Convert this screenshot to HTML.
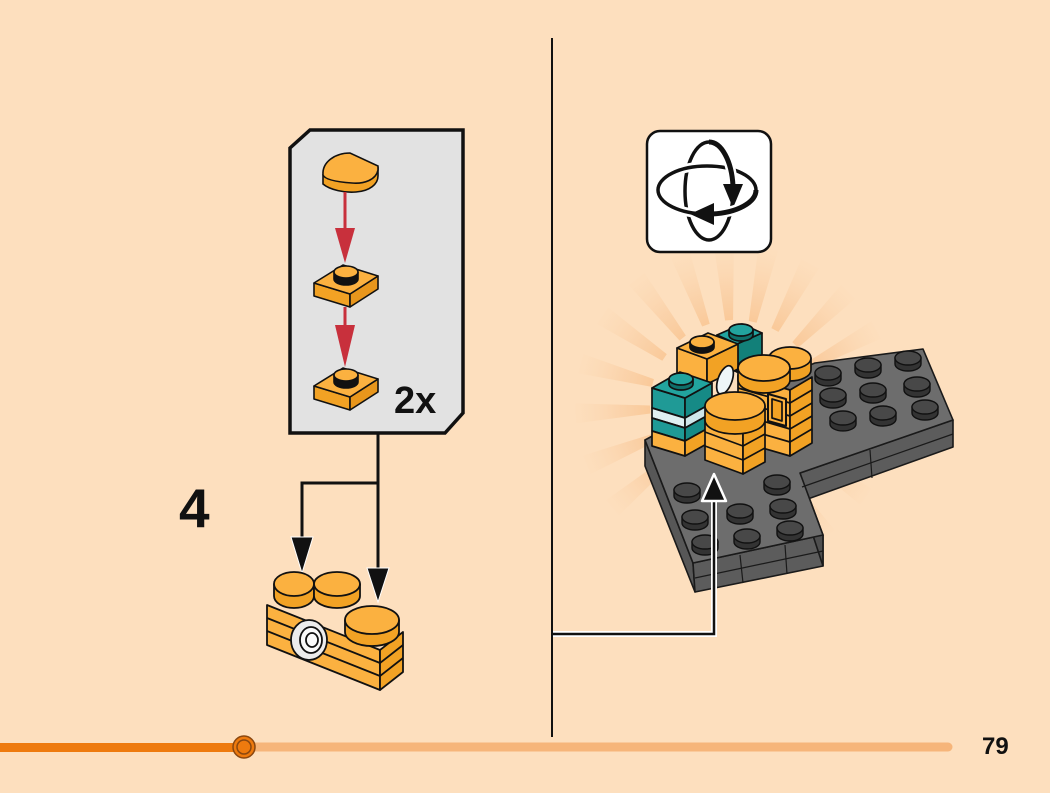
<!DOCTYPE html>
<html><head><meta charset="utf-8"><style>
html,body{margin:0;padding:0;background:#fddfbe;}
svg{display:block;}
text{font-family:"Liberation Sans",sans-serif;font-weight:bold;}
</style></head><body>
<svg width="1050" height="793" viewBox="0 0 1050 793" xmlns="http://www.w3.org/2000/svg">
<defs>
<radialGradient id="rayg" gradientUnits="userSpaceOnUse" cx="735" cy="405" r="165">
<stop offset="0.4" stop-color="#f7b87a" stop-opacity="0.75"/>
<stop offset="0.7" stop-color="#f8c493" stop-opacity="0.45"/>
<stop offset="1" stop-color="#fbd2a8" stop-opacity="0"/>
</radialGradient>
</defs>
<rect width="1050" height="793" fill="#fddfbe"/>

<!-- divider -->
<line x1="552" y1="38" x2="552" y2="737" stroke="#111" stroke-width="2"/>

<!-- callout box -->
<path d="M310,130 L463,130 L463,413 L445,433 L290,433 L290,148 Z" fill="#e2e2e2" stroke="#111" stroke-width="3.5" stroke-linejoin="miter"/>

<!-- half round tile -->
<g stroke="#111" stroke-width="1.6">
<path d="M323,175 L323,184 C330,190 345,193 356,192 C370,191 378,184 378,176 L378,168 Z" fill="#f2a224"/>
<path d="M323,175 C322,162 335,153 350,153 L378,166 L378,170 C376,180 364,184 352,183 C338,182 325,180 323,175 Z" fill="#fbb140"/>
</g>
<!-- red arrow 1 -->
<line x1="345" y1="192" x2="345" y2="232" stroke="#c8303c" stroke-width="3"/>
<polygon points="335,228 355,228 345,263" fill="#c8303c"/>
<!-- plate 1 -->
<g stroke="#111" stroke-width="1.6" stroke-linejoin="round">
<polygon points="314,283 350,294 350,307 314,296" fill="#f2a224"/>
<polygon points="350,294 378,276 378,289 350,307" fill="#e8961c"/>
<polygon points="314,283 343,265 378,276 350,294" fill="#fbb140"/>
<path d="M334,272 L334,279 A12,6 0 0 0 358,279 L358,272" fill="#111"/>
<ellipse cx="346" cy="272" rx="12" ry="6" fill="#fbb140"/>
</g>
<!-- red arrow 2 -->
<line x1="345" y1="307" x2="345" y2="330" stroke="#c8303c" stroke-width="3"/>
<polygon points="335,325 355,325 345,367" fill="#c8303c"/>
<!-- plate 2 -->
<g stroke="#111" stroke-width="1.6" stroke-linejoin="round">
<polygon points="314,386 350,397 350,410 314,399" fill="#f2a224"/>
<polygon points="350,397 378,379 378,392 350,410" fill="#e8961c"/>
<polygon points="314,386 343,368 378,379 350,397" fill="#fbb140"/>
<path d="M334,375 L334,382 A12,6 0 0 0 358,382 L358,375" fill="#111"/>
<ellipse cx="346" cy="375" rx="12" ry="6" fill="#fbb140"/>
</g>
<text x="394" y="413" font-size="38" fill="#111">2x</text>

<!-- left connectors -->
<g stroke="#111" stroke-width="3" fill="none">
<polyline points="378,434 378,572"/>
<polyline points="378,483 302,483 302,540"/>
</g>
<polygon points="291,537 313,537 302,573" fill="#111" stroke="#fff" stroke-width="1"/>
<polygon points="367,568 389,568 378,602" fill="#111" stroke="#fff" stroke-width="1"/>

<text x="179" y="527" font-size="55" fill="#111">4</text>

<!-- camera assembly -->
<g stroke="#111" stroke-width="1.8" stroke-linejoin="round">
<polygon points="267,605 380,650 380,690 267,645" fill="#fbb140"/>
<polygon points="380,650 403,632 403,672 380,690" fill="#f2a224"/>
<line x1="267" y1="618" x2="380" y2="663"/>
<line x1="267" y1="631" x2="380" y2="676"/>
<line x1="380" y1="663" x2="403" y2="645"/>
<line x1="380" y1="676" x2="403" y2="658"/>
<path d="M274,584 L274,596 A20,12 0 0 0 314,596 L314,584 Z" fill="#f2a224"/>
<ellipse cx="294" cy="584" rx="20" ry="12" fill="#fbb140"/>
<path d="M314,584 L314,596 A23,12 0 0 0 360,596 L360,584 Z" fill="#f2a224"/>
<ellipse cx="337" cy="584" rx="23" ry="12" fill="#fbb140"/>
<path d="M345,620 L345,632 A27,14 0 0 0 399,632 L399,620 Z" fill="#f2a224"/>
<ellipse cx="372" cy="620" rx="27" ry="14" fill="#fbb140"/>
<ellipse cx="309" cy="640" rx="18" ry="20" fill="#ececec"/>
<ellipse cx="311" cy="640" rx="11" ry="13" fill="#fafafa"/>
<ellipse cx="312" cy="640" rx="6" ry="7" fill="none"/>
</g>

<!-- sunburst rays -->
<g fill="url(#rayg)">
<polygon points="731,320 739,320 745,245 725,245" transform="rotate(-112 735 405)"/>
<polygon points="731,320 739,320 745,245 725,245" transform="rotate(-93 735 405)"/>
<polygon points="731,320 739,320 745,245 725,245" transform="rotate(-75 735 405)"/>
<polygon points="731,320 739,320 745,245 725,245" transform="rotate(-56 735 405)"/>
<polygon points="731,320 739,320 745,245 725,245" transform="rotate(-38 735 405)"/>
<polygon points="731,320 739,320 745,245 725,245" transform="rotate(-20 735 405)"/>
<polygon points="731,320 739,320 745,245 725,245" transform="rotate(-4 735 405)"/>
<polygon points="731,320 739,320 745,245 725,245" transform="rotate(12 735 405)"/>
<polygon points="731,320 739,320 745,245 725,245" transform="rotate(28 735 405)"/>
<polygon points="731,320 739,320 745,245 725,245" transform="rotate(45 735 405)"/>
<polygon points="731,320 739,320 745,245 725,245" transform="rotate(62 735 405)"/>
<polygon points="731,320 739,320 745,245 725,245" transform="rotate(125 735 405)"/>
<polygon points="731,320 739,320 745,245 725,245" transform="rotate(145 735 405)"/>
<polygon points="731,320 739,320 745,245 725,245" transform="rotate(-130 735 405)"/>
</g>

<!-- rotate icon -->
<rect x="647" y="131" width="124" height="121" rx="13" ry="13" fill="#fff" stroke="#111" stroke-width="2.5"/>
<ellipse cx="709" cy="191" rx="24" ry="49" fill="none" stroke="#111" stroke-width="3.5"/>
<ellipse cx="707" cy="190" rx="49" ry="24" fill="none" stroke="#fff" stroke-width="9"/>
<ellipse cx="707" cy="190" rx="49" ry="24" fill="none" stroke="#111" stroke-width="3.5"/>
<path d="M709,142 A24,49 0 0 1 733,186" fill="none" stroke="#fff" stroke-width="10"/>
<path d="M709,142 A24,49 0 0 1 733,186" fill="none" stroke="#111" stroke-width="5"/>
<polygon points="723,184 743,184 733,208" fill="#111"/>
<path d="M756,190 A49,24 0 0 1 712,214" fill="none" stroke="#fff" stroke-width="10"/>
<path d="M756,190 A49,24 0 0 1 712,214" fill="none" stroke="#111" stroke-width="5"/>
<polygon points="714,203 714,225 690,214" fill="#111"/>

<!-- gray plate -->
<g stroke="#1a1a1a" stroke-width="1.6" stroke-linejoin="round">
<polygon points="645,440 693,563 695,592 645,466" fill="#575757"/>
<polygon points="693,563 823,535 823,566 695,592" fill="#5c5c5c"/>
<polygon points="800,473 823,535 823,566 803,505" fill="#4f4f4f"/>
<polygon points="800,473 953,420 953,447 805,500" fill="#5c5c5c"/>
<polygon points="645,440 700,410 815,363 923,349 953,420 800,473 823,535 693,563" fill="#6d6d6d"/>
<line x1="695" y1="578" x2="823" y2="551" stroke-width="1.2"/>
<line x1="802" y1="487" x2="953" y2="434" stroke-width="1.2"/>
<line x1="740" y1="555" x2="743" y2="583" stroke-width="1.2"/>
<line x1="785" y1="545" x2="787" y2="574" stroke-width="1.2"/>
<line x1="870" y1="450" x2="872" y2="478" stroke-width="1.2"/>
</g>
<!-- studs -->
<g stroke="#111" stroke-width="1.4" fill="#333">
<path d="M815,373 l0,6 a13,7 0 0 0 26,0 l0,-6 Z"/><ellipse cx="828" cy="373" rx="13" ry="7" fill="#484848"/>
<path d="M855,365 l0,6 a13,7 0 0 0 26,0 l0,-6 Z"/><ellipse cx="868" cy="365" rx="13" ry="7" fill="#484848"/>
<path d="M895,358 l0,6 a13,7 0 0 0 26,0 l0,-6 Z"/><ellipse cx="908" cy="358" rx="13" ry="7" fill="#484848"/>
<path d="M820,395 l0,6 a13,7 0 0 0 26,0 l0,-6 Z"/><ellipse cx="833" cy="395" rx="13" ry="7" fill="#484848"/>
<path d="M860,390 l0,6 a13,7 0 0 0 26,0 l0,-6 Z"/><ellipse cx="873" cy="390" rx="13" ry="7" fill="#484848"/>
<path d="M904,384 l0,6 a13,7 0 0 0 26,0 l0,-6 Z"/><ellipse cx="917" cy="384" rx="13" ry="7" fill="#484848"/>
<path d="M830,418 l0,6 a13,7 0 0 0 26,0 l0,-6 Z"/><ellipse cx="843" cy="418" rx="13" ry="7" fill="#484848"/>
<path d="M870,413 l0,6 a13,7 0 0 0 26,0 l0,-6 Z"/><ellipse cx="883" cy="413" rx="13" ry="7" fill="#484848"/>
<path d="M912,407 l0,6 a13,7 0 0 0 26,0 l0,-6 Z"/><ellipse cx="925" cy="407" rx="13" ry="7" fill="#484848"/>
<path d="M674,490 l0,6 a13,7 0 0 0 26,0 l0,-6 Z"/><ellipse cx="687" cy="490" rx="13" ry="7" fill="#484848"/>
<path d="M682,517 l0,6 a13,7 0 0 0 26,0 l0,-6 Z"/><ellipse cx="695" cy="517" rx="13" ry="7" fill="#484848"/>
<path d="M692,542 l0,6 a13,7 0 0 0 26,0 l0,-6 Z"/><ellipse cx="705" cy="542" rx="13" ry="7" fill="#484848"/>
<path d="M727,511 l0,6 a13,7 0 0 0 26,0 l0,-6 Z"/><ellipse cx="740" cy="511" rx="13" ry="7" fill="#484848"/>
<path d="M734,536 l0,6 a13,7 0 0 0 26,0 l0,-6 Z"/><ellipse cx="747" cy="536" rx="13" ry="7" fill="#484848"/>
<path d="M764,482 l0,6 a13,7 0 0 0 26,0 l0,-6 Z"/><ellipse cx="777" cy="482" rx="13" ry="7" fill="#484848"/>
<path d="M770,506 l0,6 a13,7 0 0 0 26,0 l0,-6 Z"/><ellipse cx="783" cy="506" rx="13" ry="7" fill="#484848"/>
<path d="M777,528 l0,6 a13,7 0 0 0 26,0 l0,-6 Z"/><ellipse cx="790" cy="528" rx="13" ry="7" fill="#484848"/>
</g>

<!-- bricks on model -->
<g stroke="#111" stroke-width="1.7" stroke-linejoin="round">
<polygon points="717,335 737,344 737,372 717,363" fill="#168a86"/>
<polygon points="737,344 762,333 762,360 737,372" fill="#128079"/>
<polygon points="717,335 742,324 762,333 737,344" fill="#22a39e"/>
<path d="M729,330 l0,5 a12,6 0 0 0 24,0 l0,-5 Z" fill="#0f6f6a"/>
<ellipse cx="741" cy="330" rx="12" ry="6" fill="#22a39e"/>
<polygon points="677,348 707,359 707,384 677,373" fill="#fbb140"/>
<polygon points="707,359 738,344 738,369 707,384" fill="#f2a224"/>
<polygon points="677,348 708,333 738,344 707,359" fill="#fbb140"/>
<path d="M690,342 l0,5 a12,6 0 0 0 24,0 l0,-5 Z" fill="#111"/>
<ellipse cx="702" cy="342" rx="12" ry="6" fill="#fbb140"/>
<polygon points="652,388 685,398 685,418 652,408" fill="#1f9a96"/>
<polygon points="652,408 685,418 685,428 652,418" fill="#dff0f2"/>
<polygon points="652,418 685,428 685,441 652,431" fill="#1f9a96"/>
<polygon points="652,431 685,441 685,456 652,446" fill="#fbb140"/>
<polygon points="685,398 712,383 712,403 685,418" fill="#168a86"/>
<polygon points="685,418 712,403 712,413 685,428" fill="#cfe6ea"/>
<polygon points="685,428 712,413 712,426 685,441" fill="#168a86"/>
<polygon points="685,441 712,426 712,441 685,456" fill="#f2a224"/>
<polygon points="652,388 680,372 712,383 685,398" fill="#22a39e"/>
<path d="M669,379 l0,5 a12,6 0 0 0 24,0 l0,-5 Z" fill="#0f6f6a"/>
<ellipse cx="681" cy="379" rx="12" ry="6" fill="#22a39e"/>
<ellipse cx="725" cy="380" rx="7" ry="15" fill="#eef6f8" transform="rotate(20 725 380)"/>
<!-- main block -->
<polygon points="738,375 790,390 790,456 738,441" fill="#fbb140"/>
<polygon points="790,390 812,377 812,443 790,456" fill="#f2a224"/>
<line x1="738" y1="388" x2="790" y2="403"/>
<line x1="738" y1="401" x2="790" y2="416"/>
<line x1="738" y1="414" x2="790" y2="429"/>
<line x1="738" y1="427" x2="790" y2="442"/>
<line x1="790" y1="403" x2="812" y2="390"/>
<line x1="790" y1="416" x2="812" y2="403"/>
<line x1="790" y1="429" x2="812" y2="416"/>
<line x1="790" y1="442" x2="812" y2="429"/>
<polygon points="768,394 786,399 786,426 768,421" fill="#fbb140" stroke-width="2"/>
<polygon points="772,399 782,402 782,421 772,418" fill="#f2a224"/>
<path d="M769,358 L769,370 A21,11 0 0 0 811,370 L811,358 Z" fill="#f2a224"/>
<ellipse cx="790" cy="358" rx="21" ry="11" fill="#fbb140"/>
<path d="M738,368 L738,380 A26,13 0 0 0 790,380 L790,368 Z" fill="#f2a224"/>
<ellipse cx="764" cy="368" rx="26" ry="13" fill="#fbb140"/>
<!-- front column -->
<polygon points="705,418 743,432 743,474 705,460" fill="#fbb140"/>
<polygon points="743,432 765,420 765,462 743,474" fill="#f2a224"/>
<line x1="705" y1="432" x2="743" y2="446"/>
<line x1="705" y1="446" x2="743" y2="460"/>
<line x1="743" y1="446" x2="765" y2="434"/>
<line x1="743" y1="460" x2="765" y2="448"/>
<path d="M705,406 L705,420 A30,14 0 0 0 765,420 L765,406 Z" fill="#f2a224"/>
<ellipse cx="735" cy="406" rx="30" ry="14" fill="#fbb140"/>
</g>

<!-- right connector -->
<polyline points="553,634 714,634 714,498" fill="none" stroke="#fff" stroke-width="6"/>
<polyline points="553,634 714,634 714,498" fill="none" stroke="#111" stroke-width="2.5"/>
<polygon points="702,501 726,501 714,474" fill="#111" stroke="#fff" stroke-width="2.5" stroke-linejoin="round"/>

<!-- progress bar -->
<line x1="244" y1="747" x2="948" y2="747" stroke="#f6b57a" stroke-width="9" stroke-linecap="round"/>
<rect x="0" y="743" width="244" height="9" fill="#ee7a0e"/>
<circle cx="244" cy="747" r="11" fill="#ee7a0e" stroke="#8a4710" stroke-width="1.5"/>
<circle cx="244" cy="747" r="7" fill="#ee7a0e" stroke="#8a4710" stroke-width="1.5"/>
<text x="982" y="754" font-size="24" fill="#111">79</text>
</svg>
</body></html>
